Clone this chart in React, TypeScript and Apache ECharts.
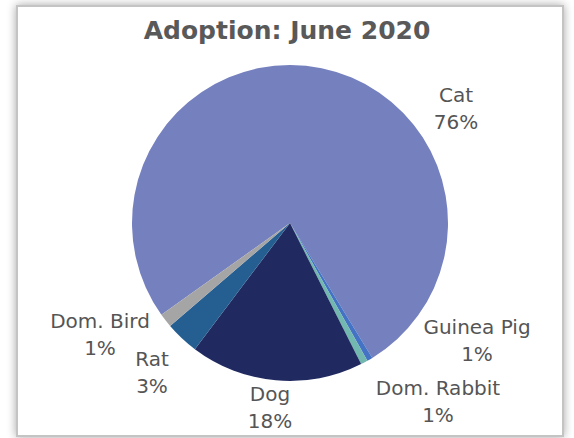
import React, { useEffect, useRef } from "react";
import * as echarts from "echarts";

const categories = ["Cat", "Guinea Pig", "Dom. Rabbit", "Dog", "Rat", "Dom. Bird"];
const counts = [533, 4, 5, 124, 24, 10];
const colors = ["#7580BF", "#4472C4", "#72B7B0", "#212A60", "#255E91", "#A5A5A5"];
const titleText = "Adoption: June 2020";
// label anchor positions (centre of the two-line label)
const labelPos = [
  [456, 108],
  [477, 340],
  [438, 401],
  [270, 407],
  [152, 372],
  [100, 334],
];

export default function App() {
  const ref = useRef<HTMLDivElement>(null);
  useEffect(() => {
    document.body.style.margin = "0";
    const chart = echarts.init(ref.current!, undefined, { renderer: "svg" });
    const total = counts.reduce((a, b) => a + b, 0);
    const font = "'DejaVu Sans', sans-serif";
    chart.setOption({
      animation: false,
      backgroundColor: "#ffffff",
      graphic: [
        {
          type: "rect",
          z: -10,
          shape: { x: 17, y: 6, width: 546, height: 430 },
          style: {
            fill: "#ffffff",
            stroke: "#c4c4c4",
            lineWidth: 2,
            shadowBlur: 10,
            shadowColor: "rgba(0,0,0,0.35)",
            shadowOffsetX: 0,
            shadowOffsetY: 0,
          },
        },
      ],
      title: {
        text: titleText,
        left: "center",
        top: 13,
        textStyle: {
          fontFamily: font,
          fontSize: 25,
          fontWeight: "bold",
          color: "#595959",
        },
      },
      series: [
        {
          type: "pie",
          center: [290, 223],
          radius: 158,
          startAngle: 215.5,
          clockwise: true,
          avoidLabelOverlap: false,
          data: categories.map((c, i) => ({
            name: c,
            value: counts[i],
            itemStyle: { color: colors[i] },
          })),
          itemStyle: { borderColor: "#ffffff", borderWidth: 0 },
          label: {
            show: true,
            position: "outside",
            formatter: (p: any) => `${p.name}\n${Math.round((p.value / total) * 100)}%`,
            fontFamily: font,
            fontSize: 20,
            lineHeight: 27,
            color: "#555555",
            align: "center",
          },
          labelLine: { show: false },
          labelLayout: (p: any) => ({
            x: labelPos[p.dataIndex][0],
            y: labelPos[p.dataIndex][1],
            align: "center",
            verticalAlign: "middle",
          }),
        },
      ],
    });
    return () => chart.dispose();
  }, []);
  return <div ref={ref} style={{ width: 574, height: 438 }} />;
}
